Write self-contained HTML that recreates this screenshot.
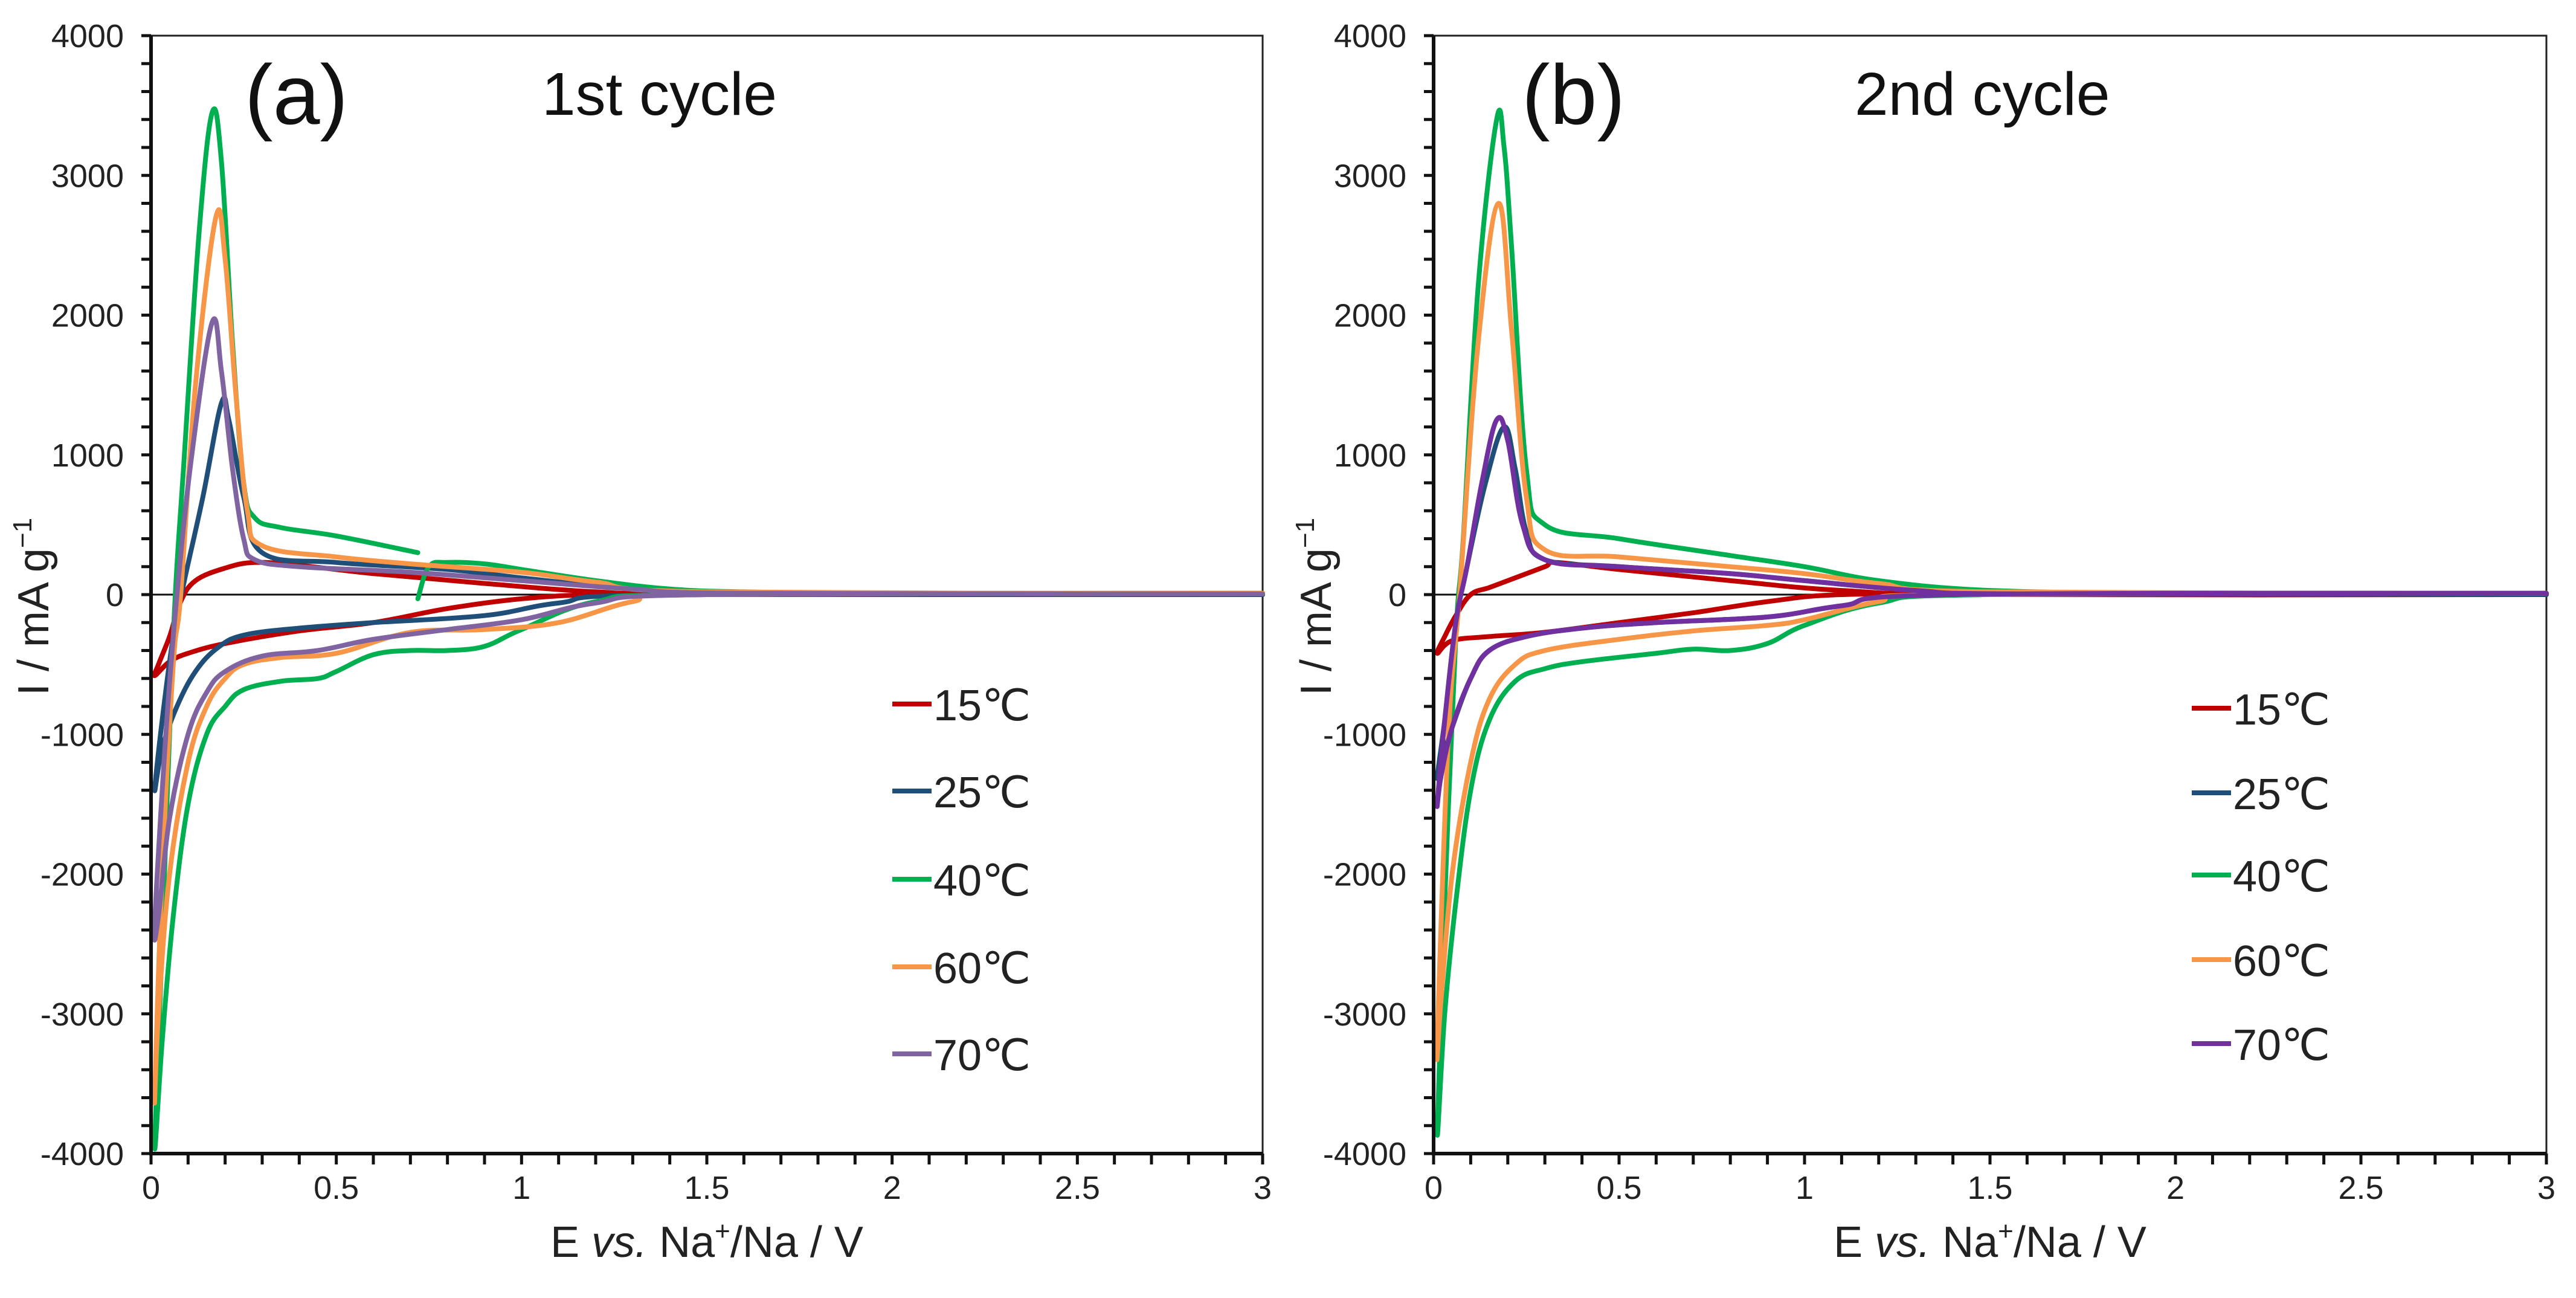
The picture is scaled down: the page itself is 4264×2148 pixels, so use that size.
<!DOCTYPE html>
<html><head><meta charset="utf-8"><style>
html,body{margin:0;padding:0;background:#fff;}
svg{display:block;font-family:"Liberation Sans",Arial,sans-serif;}
</style></head><body>
<svg id="chart" width="4264" height="2148" viewBox="0 0 4264 2148" xmlns="http://www.w3.org/2000/svg"></svg>
<script>
const seriesNames=["15℃","25℃","40℃","60℃","70℃"];
const colorsA=["#c00000","#1f4e79","#00b050","#f79646","#8064a2"];
const colorsB=["#c00000","#1f4e79","#00b050","#f79646","#7030a0"];
const xTicks=[0,0.5,1,1.5,2,2.5,3];
const xTickLabels=["0","0.5","1","1.5","2","2.5","3"];
const yTicks=[-4000,-3000,-2000,-1000,0,1000,2000,3000,4000];
const yTickLabels=["-4000","-3000","-2000","-1000","0","1000","2000","3000","4000"];
// panel (a) branches: [E, I]
const a15=[[[3,0],[1.5,0],[1.2,0],[1.0,-30],[0.8,-100],[0.6,-200],[0.4,-260],[0.2,-350],[0.1,-420],[0.05,-480],[0.01,-580],[0.02,-500],[0.05,-300],[0.08,-50],[0.12,100],[0.2,190],[0.28,230],[0.4,210],[0.6,150],[0.9,80],[1.2,20],[1.5,5],[3,0]]];
const a25=[[[3,0],[1.4,0],[1.1,-60],[0.9,-150],[0.6,-200],[0.4,-240],[0.25,-290],[0.18,-380],[0.12,-550],[0.07,-800],[0.03,-1100],[0.01,-1400],[0.03,-900],[0.06,-300],[0.09,100],[0.14,700],[0.19,1370],[0.21,1250],[0.25,700],[0.3,300],[0.5,230],[0.8,180],[1.0,120],[1.3,40],[1.6,10],[3,0]]];
const a40=[[[3,10],[1.5,0],[1.2,-50],[1.0,-250],[0.9,-370],[0.8,-400],[0.7,-400],[0.6,-430],[0.5,-550],[0.45,-600],[0.35,-620],[0.25,-680],[0.2,-800],[0.15,-1000],[0.1,-1500],[0.06,-2300],[0.03,-3200],[0.01,-3950],[0.03,-2500],[0.06,-300],[0.09,1000],[0.13,2600],[0.165,3450],[0.19,3100],[0.22,1800],[0.25,800],[0.28,550],[0.35,480],[0.5,420],[0.72,300]],
 [[0.72,-30],[0.75,200],[0.8,230],[0.9,220],[1.0,180],[1.2,100],[1.4,40],[1.6,20],[2,10],[3,10]]];
const a60=[[[3,10],[1.5,0],[1.3,-50],[1.1,-200],[0.9,-250],[0.7,-270],[0.5,-420],[0.35,-450],[0.25,-500],[0.2,-600],[0.15,-800],[0.1,-1200],[0.05,-2000],[0.02,-3000],[0.01,-3600],[0.03,-2000],[0.06,-500],[0.08,0],[0.12,1500],[0.175,2700],[0.2,2400],[0.23,1400],[0.26,600],[0.3,350],[0.5,270],[0.7,220],[1.0,160],[1.2,90],[1.5,20],[3,10]]];
const a70=[[[3,5],[1.5,0],[1.2,-60],[1.0,-180],[0.8,-250],[0.6,-320],[0.45,-400],[0.3,-440],[0.2,-550],[0.15,-700],[0.1,-1000],[0.05,-1600],[0.02,-2300],[0.01,-2350],[0.04,-1000],[0.07,0],[0.11,1000],[0.165,1950],[0.19,1600],[0.22,900],[0.25,400],[0.28,250],[0.4,200],[0.7,160],[1.0,100],[1.3,40],[1.6,10],[3,5]]];
// panel (b)
const b15=[[[3,0],[1.5,0],[1.1,0],[0.9,-50],[0.7,-130],[0.5,-200],[0.3,-270],[0.15,-300],[0.05,-330],[0.01,-420],[0.03,-300],[0.06,-150],[0.1,0],[0.15,50],[0.2,100],[0.3,200],[0.33,230],[0.5,180],[0.8,100],[1.1,30],[1.5,0],[3,0]]];
const b25=[[[3,0],[1.4,0],[1.1,-80],[0.9,-160],[0.6,-200],[0.4,-240],[0.25,-300],[0.15,-400],[0.1,-600],[0.05,-950],[0.02,-1200],[0.01,-1300],[0.03,-900],[0.06,-200],[0.09,200],[0.14,800],[0.19,1200],[0.22,900],[0.25,450],[0.3,250],[0.5,200],[0.8,150],[1.0,100],[1.3,30],[1.6,5],[3,10]]];
const b40=[[[3,10],[1.5,0],[1.2,-60],[1.0,-220],[0.9,-350],[0.8,-400],[0.7,-390],[0.6,-420],[0.4,-480],[0.3,-530],[0.22,-620],[0.15,-900],[0.1,-1400],[0.06,-2200],[0.03,-3000],[0.01,-3850],[0.03,-2200],[0.06,-300],[0.08,400],[0.12,2200],[0.17,3400],[0.19,3200],[0.21,2500],[0.25,900],[0.3,500],[0.5,400],[0.8,280],[1.0,200],[1.2,100],[1.5,30],[2,10],[3,10]]];
const b60=[[[3,10],[1.4,0],[1.2,-50],[1.0,-180],[0.9,-220],[0.7,-260],[0.5,-320],[0.3,-400],[0.22,-500],[0.15,-750],[0.1,-1200],[0.05,-2000],[0.02,-2900],[0.01,-3200],[0.04,-1000],[0.07,0],[0.12,1800],[0.175,2800],[0.21,1900],[0.25,700],[0.3,320],[0.5,270],[0.8,200],[1.0,150],[1.2,80],[1.5,20],[3,10]]];
const b70=[[[3,10],[1.4,0],[1.1,-80],[0.9,-160],[0.6,-200],[0.4,-240],[0.25,-300],[0.15,-400],[0.1,-600],[0.05,-950],[0.02,-1300],[0.01,-1500],[0.03,-900],[0.06,-200],[0.09,200],[0.13,800],[0.17,1250],[0.2,1100],[0.24,500],[0.3,250],[0.5,200],[0.8,150],[1.0,100],[1.3,30],[1.6,5],[3,10]]];
const panelA=[a15,a25,a40,a60,a70];
const panelB=[b15,b25,b40,b60,b70];

const NS="http://www.w3.org/2000/svg";
const svg=document.getElementById('chart');
function mk(tag,attrs,parent){const e=document.createElementNS(NS,tag);for(const k in attrs)e.setAttribute(k,attrs[k]);(parent||svg).appendChild(e);return e;}
function smooth(pts){
  let d='M'+pts[0][0].toFixed(1)+' '+pts[0][1].toFixed(1);
  for(let i=0;i<pts.length-1;i++){
    const p0=pts[Math.max(0,i-1)],p1=pts[i],p2=pts[i+1],p3=pts[Math.min(pts.length-1,i+2)];
    const t=0.18;
    const c1=[p1[0]+(p2[0]-p0[0])*t,p1[1]+(p2[1]-p0[1])*t];
    const c2=[p2[0]-(p3[0]-p1[0])*t,p2[1]-(p3[1]-p1[1])*t];
    d+=` C${c1[0].toFixed(1)} ${c1[1].toFixed(1)} ${c2[0].toFixed(1)} ${c2[1].toFixed(1)} ${p2[0].toFixed(1)} ${p2[1].toFixed(1)}`;
  }
  return d;
}

function drawPanel(o){
  const g=mk('g',{});
  
  
  const X=v=>o.x0+(v-0)/3*(o.x1-o.x0);
  const Y=v=>o.y0-(v/4000)*(o.y0-o.yT);
  const yB=Y(-4000);
  const fr=mk('rect',{x:X(0),y:o.yT,width:X(3)-X(0),height:yB-o.yT,fill:'none',stroke:'#222','stroke-width':3},g);
  
  
  const zl=mk('line',{x1:X(0),x2:X(3),y1:Y(0),y2:Y(0),stroke:'#111','stroke-width':3},g);
  
  
  o.data.forEach((ser,i)=>{
    ser.forEach((br,j)=>{
      const pts=br.map(p=>[X(p[0]),Y(p[1])]);
      const p=mk('path',{d:smooth(pts),fill:'none',stroke:o.colors[i],'stroke-width':8,'stroke-linejoin':'round','stroke-linecap':'round'},g);
      
      
    });
  });
  const ax=mk('path',{d:`M${X(0)} ${o.yT} L${X(0)} ${yB} L${X(3)} ${yB}`,fill:'none',stroke:'#111','stroke-width':6},g);
  
  
  for(let k=0;k<=30;k++){const xv=k*0.1;mk('line',{x1:X(xv),x2:X(xv),y1:yB,y2:yB+18,stroke:'#111','stroke-width':5},g);}
  for(let k=-20;k<=20;k++){const yv=k*200;mk('line',{x1:X(0)-16,x2:X(0),y1:Y(yv),y2:Y(yv),stroke:'#111','stroke-width':5},g);}
  xTicks.forEach((v,i)=>{const t=mk('text',{x:X(v),y:yB+75,'text-anchor':'middle','font-size':54,fill:'#222'},g);t.textContent=xTickLabels[i];
    
    });
  yTicks.forEach((v,i)=>{const t=mk('text',{x:X(0)-45,y:Y(v)+19,'text-anchor':'end','font-size':54,fill:'#222'},g);t.textContent=yTickLabels[i];
    
    });
  const xt=mk('text',{x:(X(0)+X(3))/2,y:2080,'text-anchor':'middle','font-size':72,fill:'#222'},g);
  xt.innerHTML='E <tspan font-style="italic">vs.</tspan> Na<tspan font-size="44" dy="-28">+</tspan><tspan dy="28">/Na / V</tspan>';
  
  
  const yt=mk('text',{x:0,y:0,'text-anchor':'middle','font-size':72,fill:'#222',transform:`translate(${o.x0-170},${Y(0)+20}) rotate(-90)`},g);
  yt.innerHTML='I / mA g<tspan font-size="44" dy="-28">−1</tspan>';
  
  
  const pl=mk('text',{x:o.labX,y:205,'font-size':140,fill:'#111'},g);pl.textContent=o.lab;
  
  
  const ct=mk('text',{x:o.capX,y:190,'font-size':100,fill:'#111'},g);ct.textContent=o.cap;
  
  
  seriesNames.forEach((n,i)=>{
    const ly=o.legY[i];
    const lg=mk('g',{},g);
    
    
    mk('line',{x1:o.legX,x2:o.legX+65,y1:ly,y2:ly,stroke:o.colors[i],'stroke-width':8},lg);
    const t=mk('text',{x:o.legX+68,y:ly+27,'font-size':72,fill:'#222'},lg);t.textContent=n;
  });
}
drawPanel({id:'a',x0:250,x1:2090,yT:59,y0:984,data:panelA,colors:colorsA,lab:'(a)',labX:405,cap:'1st cycle',capX:897,legX:1477,legY:[1165,1309,1455,1600,1744]});
drawPanel({id:'b',x0:2373,x1:4215,yT:59,y0:984,data:panelB,colors:colorsB,lab:'(b)',labX:2519,cap:'2nd cycle',capX:3070,legX:3628,legY:[1172,1312,1448,1588,1727]});
</script>
</body></html>
